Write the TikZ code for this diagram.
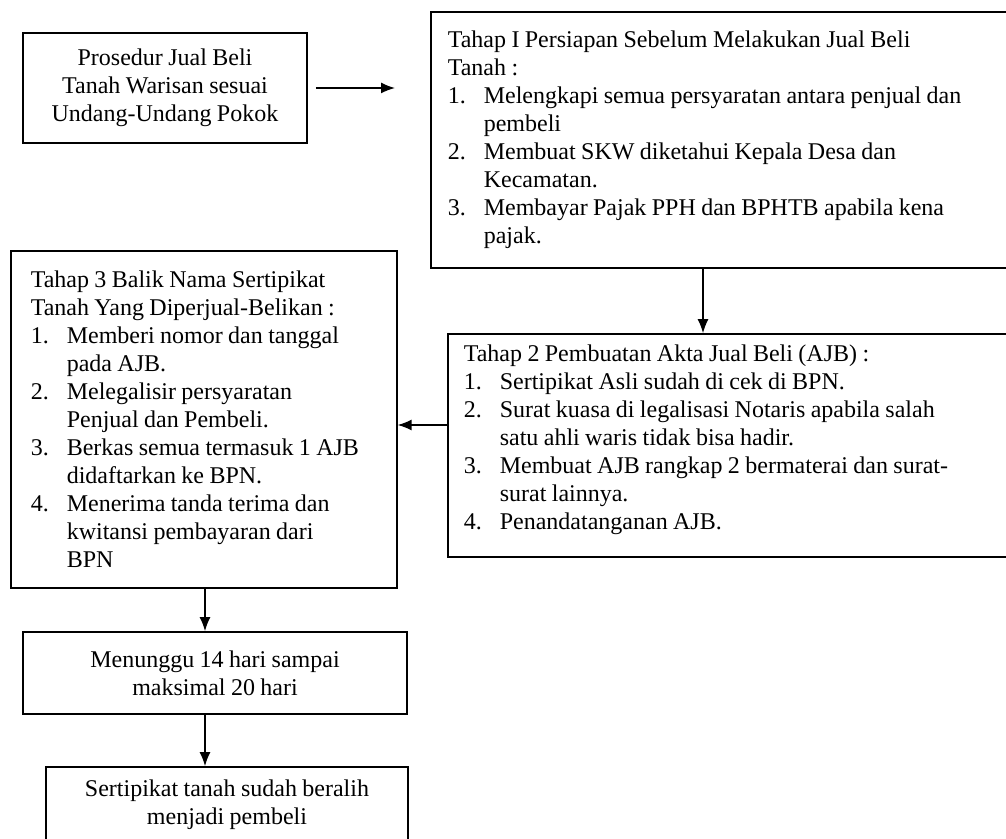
\documentclass[tikz,border=0pt]{standalone}
\usepackage{fontspec}
\setmainfont[WordSpace=0.9]{Liberation Serif}
\usetikzlibrary{arrows.meta}
\newcommand{\stepitem}[2]{\par\hangindent=18pt\hangafter=1\noindent\makebox[18pt][l]{#1}#2\par}
\tikzset{
  prosesbox/.style={draw, line width=0.8pt, align=center, inner sep=0pt,
    font=\fontsize{12}{14}\selectfont},
  tahapbox/.style={draw, line width=0.8pt, align=left, anchor=west, inner ysep=0pt,
    font=\fontsize{12}{14}\selectfont,
    execute at begin node={\setlength{\parindent}{0pt}\setlength{\parskip}{0pt}%
      \spaceskip=0pt\xspaceskip=0pt}},
  panah/.style={line width=0.75pt, -{Latex[length=7pt,width=5.5pt]}}
}
\begin{document}
\begin{tikzpicture}[x=0.5pt, y=-0.5pt]
    \useasboundingbox (0,0) rectangle (1006,839);
    \clip (0,0) rectangle (1006,839);
    \node[prosesbox, minimum width=142pt, minimum height=55pt] (prosedur) at (165,88)
      {Prosedur Jual Beli\\Tanah Warisan sesuai\\Undang-Undang Pokok};
    \node[tahapbox, inner xsep=8.5pt, text width=274pt, minimum height=128pt] (tahapI) at (430,140)
      {Tahap I Persiapan Sebelum Melakukan Jual Beli\newline Tanah :
       \stepitem{1.}{Melengkapi semua persyaratan antara penjual dan\newline pembeli}
       \stepitem{2.}{Membuat SKW diketahui Kepala Desa dan\newline Kecamatan.}
       \stepitem{3.}{Membayar Pajak PPH dan BPHTB apabila kena\newline pajak.}};
    \node[tahapbox, inner xsep=8pt, text width=266.5pt, minimum height=111.5pt] (tahapII) at (447,445.5)
      {Tahap 2 Pembuatan Akta Jual Beli (AJB) :
       \stepitem{1.}{Sertipikat Asli sudah di cek di BPN.}
       \stepitem{2.}{Surat kuasa di legalisasi Notaris apabila salah\newline satu ahli waris tidak bisa hadir.}
       \stepitem{3.}{Membuat AJB rangkap 2 bermaterai dan surat-\newline surat lainnya.}
       \stepitem{4.}{Penandatanganan AJB.}\vskip6pt\hrule height0pt width0pt};
    \node[tahapbox, inner xsep=10pt, text width=173pt, minimum height=168.5pt] (tahapIII) at (10,419.5)
      {Tahap 3 Balik Nama Sertipikat\newline Tanah Yang Diperjual-Belikan :
       \stepitem{1.}{Memberi nomor dan tanggal\newline pada AJB.}
       \stepitem{2.}{Melegalisir persyaratan\newline Penjual dan Pembeli.}
       \stepitem{3.}{Berkas semua termasuk 1 AJB\newline didaftarkan ke BPN.}
       \stepitem{4.}{Menerima tanda terima dan\newline kwitansi pembayaran dari\newline BPN}};
    \node[prosesbox, minimum width=192pt, minimum height=41pt] (menunggu) at (215,673)
      {Menunggu 14 hari sampai\\maksimal 20 hari};
    \node[prosesbox, minimum width=181pt, minimum height=37.5pt] (beralih) at (227,804.5)
      {Sertipikat tanah sudah beralih\\menjadi pembeli};
    \coordinate (turunI) at (703,0);
    \coordinate (kiriII) at (0,425);
    \coordinate (turunIII) at (205,0);
    \draw[panah, shorten <=4pt, shorten >=17.5pt] (prosedur.east) -- (prosedur.east -| tahapI.west);
    \draw[panah] (tahapI.south -| turunI) -- (tahapII.north -| turunI);
    \draw[panah] (tahapII.west |- kiriII) -- (tahapIII.east |- kiriII);
    \draw[panah] (tahapIII.south -| turunIII) -- (menunggu.north -| turunIII);
    \draw[panah] (menunggu.south -| turunIII) -- (beralih.north -| turunIII);
  \end{tikzpicture}
\end{document}
